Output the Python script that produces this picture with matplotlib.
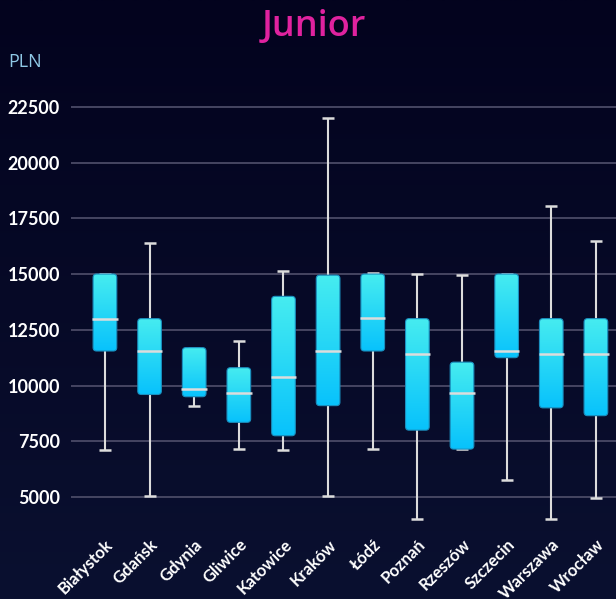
import numpy as np
import matplotlib
matplotlib.use('Agg')
import matplotlib.pyplot as plt
from matplotlib.patches import FancyBboxPatch
from matplotlib.colors import LinearSegmentedColormap

###############################################################################
# Data (PLN)
cities = ['Białystok', 'Gdańsk', 'Gdynia', 'Gliwice', 'Katowice', 'Kraków',
          'Łódź', 'Poznań', 'Rzeszów', 'Szczecin', 'Warszawa', 'Wrocław']
whisker_low = [7100, 5050, 9100, 7150, 7100, 5050,
               7150, 4000, 7150, 5750, 4000, 4950]
q1 = [11550, 9600, 9500, 8350, 7750, 9100,
      11550, 8000, 7150, 11250, 9000, 8650]
median = [13000, 11550, 9850, 9650, 10400, 11550,
          13050, 11400, 9650, 11550, 11400, 11400]
q3 = [15000, 13000, 11700, 10800, 14000, 14950,
      15000, 13000, 11050, 15000, 13000, 13000]
whisker_high = [15000, 16400, 11700, 12000, 15150, 22000,
                15050, 15000, 14950, 15000, 18050, 16500]
yticks = [5000, 7500, 10000, 12500, 15000, 17500, 20000, 22500]

###############################################################################
# Styling
grid_color = '#4a4a66'
line_color = '#dcdcdc'
tick_font = ['Lato', 'DejaVu Sans']
box_cmap = LinearSegmentedColormap.from_list('box', ['#08c2fc', '#46ecf0'])
plt.rcParams['font.family'] = ['Open Sans', 'DejaVu Sans']

fig = plt.figure(figsize=(6.16, 5.99), dpi=100)
fig.patch.set_facecolor('#04041f')

# Subtle background gradient
bg_ax = fig.add_axes([0, 0, 1, 1], zorder=-10)
bg = np.linspace(0, 1, 256).reshape(-1, 1)
bg_cmap = LinearSegmentedColormap.from_list('bg', ['#0a1030', '#03031e'])
bg_ax.imshow(bg, aspect='auto', cmap=bg_cmap, origin='lower',
             extent=[0, 1, 0, 1])
bg_ax.axis('off')

ax = fig.add_axes([71 / 616, 1 - 535 / 599, 1 - 71 / 616, (535 - 95.6) / 599])
ax.set_facecolor('none')

x = np.arange(len(cities))
box_w = 0.53
cap_w = 0.27

ax.set_xlim(-0.76, 11.45)
ax.set_ylim(3300, 23000)

# Whiskers and caps
ax.vlines(x, whisker_low, q1, color=line_color, linewidth=1.5, zorder=2)
ax.vlines(x, q3, whisker_high, color=line_color, linewidth=1.5, zorder=2)
ax.hlines(whisker_low, x - cap_w / 2, x + cap_w / 2, color=line_color,
          linewidth=1.8, zorder=2)
ax.hlines(whisker_high, x - cap_w / 2, x + cap_w / 2, color=line_color,
          linewidth=1.8, zorder=2)

# Rounded gradient boxes
fig.canvas.draw()
px_x = (ax.get_xlim()[1] - ax.get_xlim()[0]) / ax.bbox.width
px_y = (ax.get_ylim()[1] - ax.get_ylim()[0]) / ax.bbox.height
aspect = px_y / px_x
grad = np.linspace(0, 1, 128).reshape(-1, 1)
for xi, lo, hi in zip(x, q1, q3):
    patch = FancyBboxPatch((xi - box_w / 2, lo), box_w, hi - lo,
                           boxstyle='round,pad=0,rounding_size=%f' % (3.5 * px_x),
                           mutation_aspect=aspect,
                           facecolor='none', edgecolor='#1a8fbf',
                           linewidth=0.8, zorder=4)
    ax.add_patch(patch)
    im = ax.imshow(grad, cmap=box_cmap, origin='lower', aspect='auto',
                   extent=[xi - box_w / 2, xi + box_w / 2, lo, hi], zorder=3)
    im.set_clip_path(patch)

# Medians
ax.hlines(median, x - box_w / 2 - 0.02, x + box_w / 2 + 0.02,
          color=line_color, linewidth=1.8, zorder=5)

ax.set_xlim(-0.76, 11.45)
ax.set_ylim(3300, 23000)

# Grid and ticks
ax.set_yticks(yticks)
ax.set_yticklabels([str(v) for v in yticks], family=tick_font,
                   fontweight='bold')
ax.yaxis.grid(True, color=grid_color, linewidth=1.3)
ax.set_axisbelow(True)
ax.tick_params(axis='y', length=0, pad=8, labelcolor='white', labelsize=13)
ax.tick_params(axis='x', length=0, pad=1, labelcolor='white', labelsize=12)
ax.set_xticks(x)
ax.set_xticklabels(cities, rotation=45, ha='right', va='top',
                   rotation_mode='anchor', fontweight='bold', family=tick_font)
for sp in ax.spines.values():
    sp.set_visible(False)

# Titles
fig.text(314 / 616, 1 - 27 / 599, 'Junior', color='#e0229f', fontsize=26,
         fontweight='semibold', ha='center', va='center')
fig.text(8 / 616, 1 - 62 / 599, 'PLN', color='#8fc8e6', fontsize=13,
         ha='left', va='center')

fig.savefig('out.png', dpi=100, facecolor=fig.get_facecolor())
